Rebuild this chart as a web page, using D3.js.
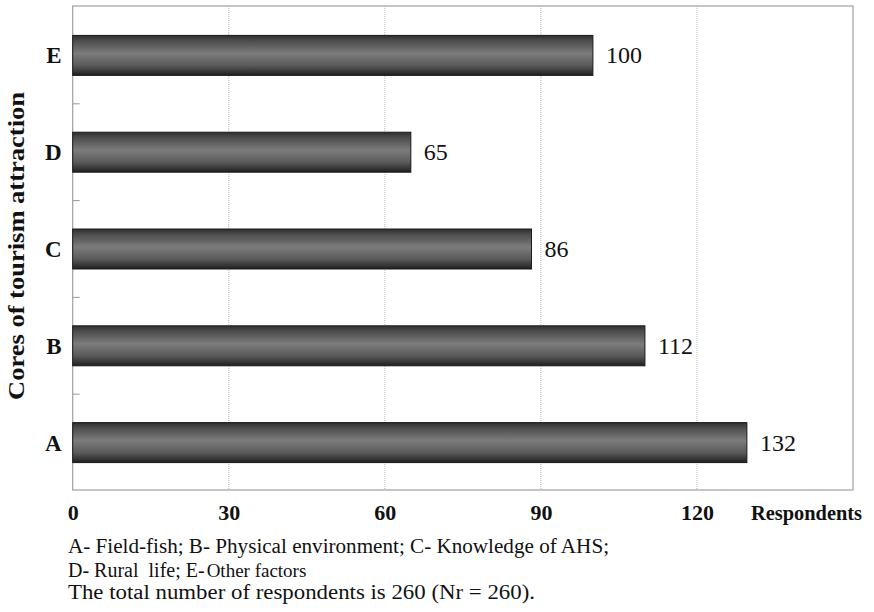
<!DOCTYPE html>
<html><head><meta charset="utf-8">
<script src="https://cdn.jsdelivr.net/npm/d3@7"></script>
<style>body{margin:0;background:#fff}svg{display:block}</style>
</head><body>
<svg id="chart" width="874" height="612"></svg>
<script>
const categories = ["E", "D", "C", "B", "A"];
const barValues = [100, 65, 88.2, 110, 129.6];
const valueLabels = ["100", "65", "86", "112", "132"];
const xTicks = [0, 30, 60, 90, 120];
const xTitle = "Respondents";
const yTitle = "Cores of tourism attraction";
const captionLines = [
  "A- Field-fish; B- Physical environment; C- Knowledge of AHS;",
  "The total number of respondents is 260 (Nr = 260)."
];

const svg = d3.select("#chart");
const L = 72.7, R = 853, T = 6, B = 490;
const serif = '"Liberation Serif"';

const x = d3.scaleLinear().domain([0, 150]).range([L, R]);
const y = d3.scaleBand().domain(categories).range([T + 1, B + 1]).padding(0);
const barH = y.bandwidth() * 0.413;

const defs = svg.append("defs");
const g = defs.append("linearGradient").attr("id", "barGrad")
  .attr("x1", 0).attr("y1", 0).attr("x2", 0).attr("y2", 1);
[[0, "#2e2e2e"], [0.12, "#4a4a4a"], [0.45, "#7c7c7c"], [0.75, "#5a5a5a"], [0.92, "#333"], [1, "#1e1e1e"]]
  .forEach(([o, c]) => g.append("stop").attr("offset", o).attr("stop-color", c));

// gridlines
svg.append("g").selectAll("line").data(xTicks.filter(d => d > 0)).join("line")
  .attr("x1", d => x(d)).attr("x2", d => x(d)).attr("y1", T).attr("y2", B)
  .attr("stroke", "#b8b8b8").attr("stroke-width", 1).attr("stroke-dasharray", "1,1");

// frame
svg.append("rect").attr("x", L).attr("y", T).attr("width", R - L).attr("height", B - T)
  .attr("fill", "none").attr("stroke", "#a0a0a0").attr("stroke-width", 1.2);

// inner tick marks at band boundaries
const bounds = categories.slice(1).map(c => y(c));
svg.append("g").selectAll("line").data(bounds).join("line")
  .attr("x1", L).attr("x2", L + 7).attr("y1", d => d).attr("y2", d => d)
  .attr("stroke", "#999").attr("stroke-width", 1);

// bars
svg.append("g").selectAll("rect").data(categories).join("rect")
  .attr("x", x(0))
  .attr("y", c => y(c) + y.bandwidth() / 2 - barH / 2)
  .attr("width", (c, i) => x(barValues[i]) - x(0))
  .attr("height", barH)
  .attr("fill", "url(#barGrad)")
  .attr("stroke", "#1a1a1a").attr("stroke-width", 1);

// value labels
svg.append("g").selectAll("text").data(categories).join("text")
  .attr("x", (c, i) => x(barValues[i]) + 13)
  .attr("y", c => y(c) + y.bandwidth() / 2 + 8)
  .style("font-family", serif).style("font-size", "24px").attr("fill", "#111")
  .text((c, i) => valueLabels[i]);

// y category labels
const yAxis = d3.axisLeft(y).tickSize(0).tickPadding(11);
const ya = svg.append("g").attr("transform", `translate(${L},0)`).call(yAxis);
ya.select(".domain").remove();
ya.attr("font-family", null).attr("font-size", null);
ya.selectAll("text").style("font-family", serif).style("font-size", "23px")
  .style("font-weight", "bold").attr("fill", "#111").attr("dy", "0.35em");

// x axis labels
const xAxis = d3.axisBottom(x).tickValues(xTicks).tickSize(0).tickPadding(0);
const xa = svg.append("g").attr("transform", `translate(0,${B})`).call(xAxis);
xa.select(".domain").remove();
xa.attr("font-family", null).attr("font-size", null);
xa.selectAll("text").style("font-family", serif).style("font-size", "22px")
  .style("font-weight", "bold").attr("fill", "#111").attr("dy", null).attr("y", 30);

svg.append("text").attr("x", 751).attr("y", 520)
  .style("font-family", serif).style("font-size", "20px").style("font-weight", "bold")
  .attr("fill", "#111").attr("textLength", 111).attr("lengthAdjust", "spacingAndGlyphs")
  .text(xTitle);

// y title
svg.append("text").attr("transform", "translate(24,246) rotate(-90)")
  .attr("text-anchor", "middle").style("font-family", serif).style("font-size", "24px")
  .style("font-weight", "bold").attr("fill", "#111")
  .attr("textLength", 308).attr("lengthAdjust", "spacingAndGlyphs")
  .text(yTitle);

// caption
svg.append("text").attr("x", 68).attr("y", 553).style("font-family", serif)
  .style("font-size", "20px").attr("fill", "#111").attr("textLength", 541)
  .attr("lengthAdjust", "spacingAndGlyphs").text(captionLines[0]);
const l2 = svg.append("text").attr("x", 68).attr("y", 577).style("font-family", serif)
  .style("font-size", "20px").attr("fill", "#111");
l2.append("tspan").text("D- Rural\u00a0 life; E-");
l2.append("tspan").style("font-size", "19px").attr("dx", 2).text("Other factors");
svg.append("text").attr("x", 68).attr("y", 599).style("font-family", serif)
  .style("font-size", "20px").attr("fill", "#111").attr("textLength", 467)
  .attr("lengthAdjust", "spacingAndGlyphs").text(captionLines[1]);
</script>
</body></html>
